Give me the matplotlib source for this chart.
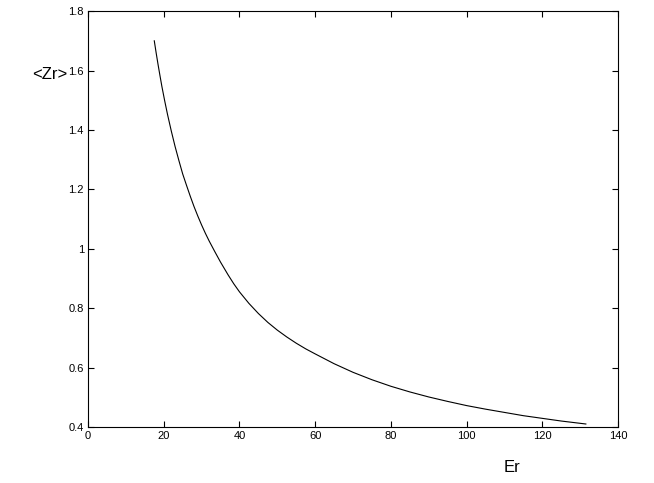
import matplotlib
matplotlib.use('Agg')
import matplotlib.pyplot as plt

plt.rcParams['font.family'] = ['Liberation Sans', 'DejaVu Sans']

# values
er = [17.5, 18.0, 18.5, 19.0, 19.5, 20.25, 21, 22, 23, 24, 25, 26, 27, 28,
      29, 30, 31, 32, 33.5, 35, 37, 38.5, 40, 42.5, 45, 47.5, 50, 52.5, 55,
      57.5, 60, 65, 70, 75, 80, 85, 90, 95, 100, 105, 110, 115, 120, 125,
      131.5]
zr = [1.700, 1.659, 1.620, 1.583, 1.547, 1.498, 1.452, 1.396, 1.344, 1.297,
      1.252, 1.214, 1.177, 1.142, 1.110, 1.080, 1.052, 1.026, 0.990, 0.955,
      0.912, 0.882, 0.855, 0.816, 0.782, 0.752, 0.726, 0.703, 0.682, 0.663,
      0.646, 0.613, 0.584, 0.559, 0.537, 0.518, 0.501, 0.486, 0.472, 0.460,
      0.449, 0.438, 0.429, 0.420, 0.410]

xticks = [0, 20, 40, 60, 80, 100, 120, 140]
yticks = [0.4, 0.6, 0.8, 1.0, 1.2, 1.4, 1.6, 1.8]
yticklabels = ['0.4', '0.6', '0.8', '1', '1.2', '1.4', '1.6', '1.8']

fig = plt.figure(figsize=(6.54, 4.83), dpi=100)
ax = fig.add_axes([0.1346, 0.116, 0.8104, 0.861])
ax.plot(er, zr, color='black', linewidth=0.8)

ax.set_xlim(0, 140)
ax.set_ylim(0.4, 1.8)
ax.set_xticks(xticks)
ax.set_yticks(yticks)
ax.set_yticklabels(yticklabels)
ax.tick_params(direction='in', top=True, right=True, length=4,
               width=0.8, labelsize=8, pad=3)
for s in ax.spines.values():
    s.set_linewidth(0.8)

fig.text(0.076, 0.845, '<Zr>', fontsize=12, ha='center', va='center')
fig.text(0.783, 0.033, 'Er', fontsize=12, ha='center', va='center')

plt.savefig('out.png', dpi=100)
